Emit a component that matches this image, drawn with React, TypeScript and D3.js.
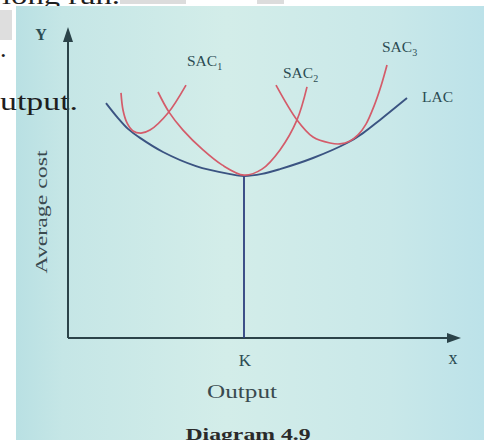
import React from "react";
import * as d3 from "d3";

type Pt = [number, number];

// Output (x) vs Average cost (y), in arbitrary diagram units
const lacCurve: Pt[] = [
  [9.5, 78.3], [12.5, 73.3], [15, 69.7], [18, 66.7], [23.75, 62], [32, 57.3],
  [40.25, 54.7], [44, 54], [48.5, 54.7], [53, 56.3], [61.25, 60], [69.75, 65],
  [73.75, 68.3], [78, 72.7], [84.75, 80],
];
const sac1Curve: Pt[] = [
  [13.25, 81.7], [13.75, 76], [14.75, 71.7], [16.25, 69], [18.25, 68.3],
  [20.5, 69.3], [25, 75], [29.5, 84.3],
];
const sac2Curve: Pt[] = [
  [22.5, 82], [25.25, 75.3], [28.75, 69.3], [33.75, 62.7], [38.5, 57.7], [44, 54.3],
  [48.5, 56.3], [53, 62.7], [57.25, 72.7], [59.75, 83.7],
];
const sac3Curve: Pt[] = [
  [52, 84.3], [57.25, 72.7], [61.25, 67], [65.5, 65], [68, 64.7], [70.5, 65.7],
  [72.5, 67.7], [74.5, 71.3], [76.5, 77.3], [78.25, 84], [79.75, 91],
];
const kOutput = 44;
const kCost = 54;

const curveLabels = [
  { base: "SAC", sub: "1", x: 29.75, y: 90.7 },
  { base: "SAC", sub: "2", x: 53.75, y: 86.7 },
  { base: "SAC", sub: "3", x: 78.5, y: 95.3 },
  { base: "LAC", sub: "", x: 88.5, y: 78.7 },
];

const xScale = d3.scaleLinear().domain([0, 100]).range([68, 468]);
const yScale = d3.scaleLinear().domain([0, 100]).range([338, 38]);

const line = d3
  .line<Pt>()
  .x((d) => xScale(d[0]))
  .y((d) => yScale(d[1]))
  .curve(d3.curveCatmullRom.alpha(0.5));

const SERIF = "'Liberation Serif', 'DejaVu Serif', serif";
const LABEL = "#2b4b52";
const RED = "#d45c6a";
const BLUE = "#3b5482";
const AXIS = "#2b4349";

export default function App() {
  const x0 = xScale(0);
  const y0 = yScale(0);
  return (
    <svg
      width={484}
      height={440}
      style={{ position: "fixed", left: 0, top: 0, display: "block" }}
    >
      <defs>
        <linearGradient id="bg" x1="0" x2="1" y1="0" y2="0">
          <stop offset="0" stopColor="#b9e0e3" />
          <stop offset="0.1" stopColor="#c5e6e6" />
          <stop offset="0.45" stopColor="#d3ede9" />
          <stop offset="0.8" stopColor="#c9e8e9" />
          <stop offset="1" stopColor="#bce2e9" />
        </linearGradient>
      </defs>
      <rect x={0} y={0} width={484} height={440} fill="#ffffff" />
      <rect x={0} y={10} width={12} height={30} fill="#dedede" />
      <rect x={120} y={0} width={66} height={4} fill="#dcdcdc" />
      <rect x={257} y={0} width={27} height={4} fill="#dcdcdc" />
      <text x={2} y={4} fontFamily={SERIF} fontSize={26} fill="#1e1e1e" textLength={118} lengthAdjust="spacingAndGlyphs">
        long run.
      </text>
      <rect x={16} y={6} width={468} height={434} fill="url(#bg)" />
      <text x={0} y={57} fontFamily={SERIF} fontSize={26} fill="#1e1e1e">.</text>
      <text x={0} y={110} fontFamily={SERIF} fontSize={26} fill="#1e1e1e" textLength={78} lengthAdjust="spacingAndGlyphs">
        utput.
      </text>

      {/* axes */}
      <line x1={x0} y1={40} x2={x0} y2={y0} stroke={AXIS} strokeWidth={2} />
      <path d={`M${x0},27 L${x0 - 5},42 L${x0 + 5},42 Z`} fill={AXIS} />
      <line x1={x0} y1={y0} x2={450} y2={y0} stroke={AXIS} strokeWidth={2} />
      <path d={`M461,${y0} L447,${y0 - 5} L447,${y0 + 5} Z`} fill={AXIS} />

      {/* K line */}
      <line
        x1={xScale(kOutput)}
        y1={yScale(kCost)}
        x2={xScale(kOutput)}
        y2={y0}
        stroke="#2c3f7e"
        strokeWidth={1.8}
      />

      {/* curves */}
      <path d={line(lacCurve) || ""} fill="none" stroke={BLUE} strokeWidth={1.9} />
      <path d={line(sac1Curve) || ""} fill="none" stroke={RED} strokeWidth={1.7} />
      <path d={line(sac2Curve) || ""} fill="none" stroke={RED} strokeWidth={1.7} />
      <path d={line(sac3Curve) || ""} fill="none" stroke={RED} strokeWidth={1.7} />

      {/* curve labels */}
      {curveLabels.map((l) => (
        <text key={l.base + l.sub} x={xScale(l.x)} y={yScale(l.y)} fontFamily={SERIF} fontSize={15.5} fill={LABEL}>
          {l.base}
          {l.sub && (
            <tspan fontSize={10} dy={4}>
              {l.sub}
            </tspan>
          )}
        </text>
      ))}

      {/* axis letters */}
      <text x={41} y={40} textAnchor="middle" fontFamily={SERIF} fontSize={16} fontWeight="bold" fill={LABEL}>Y</text>
      <text x={453} y={364} textAnchor="middle" fontFamily={SERIF} fontSize={18} fill={LABEL}>x</text>
      <text x={xScale(kOutput) + 1} y={366} textAnchor="middle" fontFamily={SERIF} fontSize={17} fill={LABEL}>K</text>

      <text
        transform="translate(47,212) rotate(-90)"
        textAnchor="middle"
        fontFamily={SERIF}
        fontSize={17}
        fill="#3a4a4f"
        textLength={123}
        lengthAdjust="spacingAndGlyphs"
      >
        Average cost
      </text>
      <text x={242} y={398} textAnchor="middle" fontFamily={SERIF} fontSize={18} fill="#3a4a4f" textLength={70} lengthAdjust="spacingAndGlyphs">
        Output
      </text>
      <text x={248} y={440} textAnchor="middle" fontFamily={SERIF} fontSize={17} fontWeight="bold" fill="#2a2a2a" textLength={125} lengthAdjust="spacingAndGlyphs">
        Diagram 4.9
      </text>
    </svg>
  );
}
